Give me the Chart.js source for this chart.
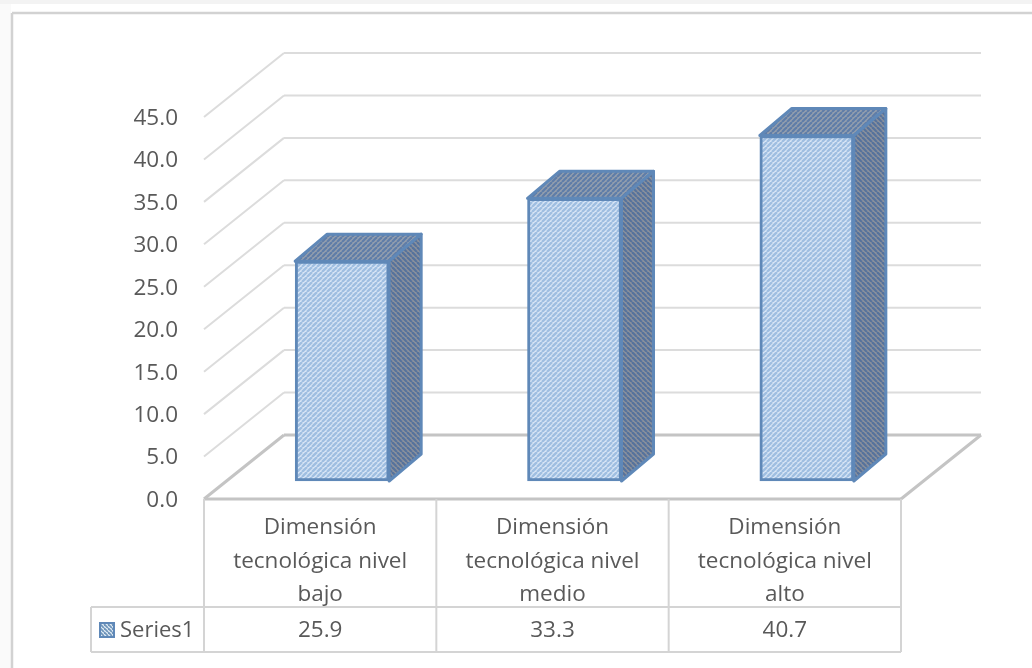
<!DOCTYPE html>
<html>
<head>
<meta charset="utf-8">
<script src="https://cdn.jsdelivr.net/npm/chart.js@4"></script>
<style>
  html, body { margin: 0; padding: 0; background: #fff; }
  canvas { display: block; }
</style>
</head>
<body>
<canvas id="grafico" width="1032" height="668"></canvas>
<script>
const categorias = [
  ["Dimensión", "tecnológica nivel", "bajo"],
  ["Dimensión", "tecnológica nivel", "medio"],
  ["Dimensión", "tecnológica nivel", "alto"],
];
const valores = [25.9, 33.3, 40.7];
const nombreSerie = "Series1";

const fuente = '"Open Sans", "Noto Sans", sans-serif';
const colorTexto = "#595959";
const colorRejilla = "#dcdcdc";
const colorPiso = "#c4c4c4";
const colorBorde = "#5f88b8";

// profundidad del grafico 3D
const fondoX = 80, fondoY = -64;
const barraX = 22, barraY = -18;
const ladoX = 32, ladoY = -27;

function trama(fondo, raya, paso, grosor, sube) {
  const c = document.createElement("canvas");
  c.width = paso;
  c.height = paso;
  const g = c.getContext("2d");
  g.fillStyle = fondo;
  g.fillRect(0, 0, paso, paso);
  g.strokeStyle = raya;
  g.lineWidth = grosor;
  for (let i = -paso; i <= paso; i += paso) {
    g.beginPath();
    if (sube) {
      g.moveTo(i, paso);
      g.lineTo(i + paso, 0);
    } else {
      g.moveTo(i, 0);
      g.lineTo(i + paso, paso);
    }
    g.stroke();
  }
  return g.createPattern(c, "repeat");
}

const ctx = document.getElementById("grafico").getContext("2d");
const tramaFrente = trama("#d9e6f6", "#9fbee1", 5, 2.4, true);
const tramaLado = trama("#8a919c", "#56729c", 5, 2.2, false);
const tramaTecho = trama("#939eae", "#5f7da8", 5, 2.2, true);
const tramaClave = trama("#e4edf6", "#6f95ba", 4, 1.8, false);

function linea(g, x1, y1, x2, y2) {
  g.beginPath();
  g.moveTo(x1, y1);
  g.lineTo(x2, y2);
  g.stroke();
}

function poligono(g, puntos, relleno) {
  g.beginPath();
  puntos.forEach((p, i) => (i ? g.lineTo(p[0], p[1]) : g.moveTo(p[0], p[1])));
  g.closePath();
  g.fillStyle = relleno;
  g.fill();
  g.stroke();
}

const grafico3d = {
  id: "grafico3d",
  beforeDraw(chart) {
    const g = chart.ctx;
    g.save();
    g.fillStyle = "#f3f3f3";
    g.fillRect(0, 0, 1032, 4);
    g.fillStyle = "#fafafa";
    g.fillRect(0, 4, 11, 664);
    g.strokeStyle = "#d2d2d2";
    g.lineWidth = 2.5;
    linea(g, 12, 13, 1032, 13);
    linea(g, 12, 13, 12, 668);
    g.restore();
  },
  beforeDatasetsDraw(chart) {
    const g = chart.ctx;
    const { x, y } = chart.scales;
    const izq = x.left, der = x.right;
    g.save();
    g.lineWidth = 2;
    g.strokeStyle = colorRejilla;
    y.ticks.forEach((t) => {
      if (t.value === 0) return;
      const py = y.getPixelForValue(t.value);
      linea(g, izq, py, izq + fondoX, py + fondoY);
      linea(g, izq + fondoX, py + fondoY, der + fondoX, py + fondoY);
    });
    // piso
    const y0 = y.getPixelForValue(0);
    g.lineWidth = 3;
    g.strokeStyle = colorPiso;
    linea(g, izq, y0, izq + fondoX, y0 + fondoY);
    linea(g, izq + fondoX, y0 + fondoY, der + fondoX, y0 + fondoY);
    linea(g, der + fondoX, y0 + fondoY, der, y0);
    linea(g, izq, y0, der, y0);
    // tabla de datos
    g.lineWidth = 2;
    g.strokeStyle = "#d4d4d4";
    const filaArriba = 607, filaAbajo = 652, tablaIzq = 91;
    const ancho = (der - izq) / categorias.length;
    for (let i = 0; i <= categorias.length; i++) {
      linea(g, izq + ancho * i, y0, izq + ancho * i, filaAbajo);
    }
    linea(g, tablaIzq, filaArriba, der, filaArriba);
    linea(g, tablaIzq, filaAbajo, der, filaAbajo);
    linea(g, tablaIzq, filaArriba, tablaIzq, filaAbajo);

    g.font = "22.5px " + fuente;
    g.fillStyle = colorTexto;
    g.textAlign = "center";
    g.textBaseline = "middle";
    valores.forEach((v, i) => {
      g.fillText(v.toFixed(1), x.getPixelForValue(i), 631);
    });
    g.textAlign = "left";
    g.font = "22px " + fuente;
    g.fillText(nombreSerie, 120, 631);
    g.fillStyle = tramaClave;
    g.strokeStyle = colorBorde;
    g.fillRect(100, 623, 14, 14);
    g.strokeRect(100, 623, 14, 14);
    g.restore();
    // las barras se dibujan desplazadas dentro del piso
    g.save();
    g.translate(barraX, barraY);
  },
  afterDatasetsDraw(chart) {
    const g = chart.ctx;
    g.lineWidth = 3;
    g.strokeStyle = colorBorde;
    g.lineJoin = "round";
    chart.getDatasetMeta(0).data.forEach((b) => {
      const mitad = b.width / 2;
      const i = b.x - mitad, d = b.x + mitad;
      poligono(g, [[i, b.y], [i + ladoX, b.y + ladoY], [d + ladoX, b.y + ladoY], [d, b.y]], tramaTecho);
      poligono(g, [[d, b.y], [d + ladoX, b.y + ladoY], [d + ladoX, b.base + ladoY], [d, b.base]], tramaLado);
    });
    g.restore();
  },
};

new Chart(ctx, {
  type: "bar",
  data: {
    labels: categorias,
    datasets: [
      {
        label: nombreSerie,
        data: valores,
        backgroundColor: tramaFrente,
        borderColor: colorBorde,
        borderWidth: 3,
        borderSkipped: false,
        barThickness: 94,
        clip: false,
      },
    ],
  },
  plugins: [grafico3d],
  options: {
    responsive: false,
    animation: false,
    layout: { padding: { top: 117, right: 131, bottom: 0, left: 0 } },
    plugins: { legend: { display: false }, tooltip: { enabled: false } },
    scales: {
      x: {
        afterFit(scale) {
          scale.height = 169;
        },
        grid: { display: false, drawTicks: false },
        border: { display: false },
        ticks: {
          color: colorTexto,
          font: { family: fuente, size: 22.5, lineHeight: 1.49 },
          maxRotation: 0,
          autoSkip: false,
          padding: 12,
        },
      },
      y: {
        min: 0,
        max: 45,
        afterFit(scale) {
          scale.width = 204;
        },
        grid: { display: false, drawTicks: false },
        border: { display: false },
        ticks: {
          stepSize: 5,
          color: colorTexto,
          font: { family: fuente, size: 22.5 },
          padding: 26,
          labelOffset: 1.5,
          callback: (v) => v.toFixed(1),
        },
      },
    },
  },
});
</script>
</body>
</html>
